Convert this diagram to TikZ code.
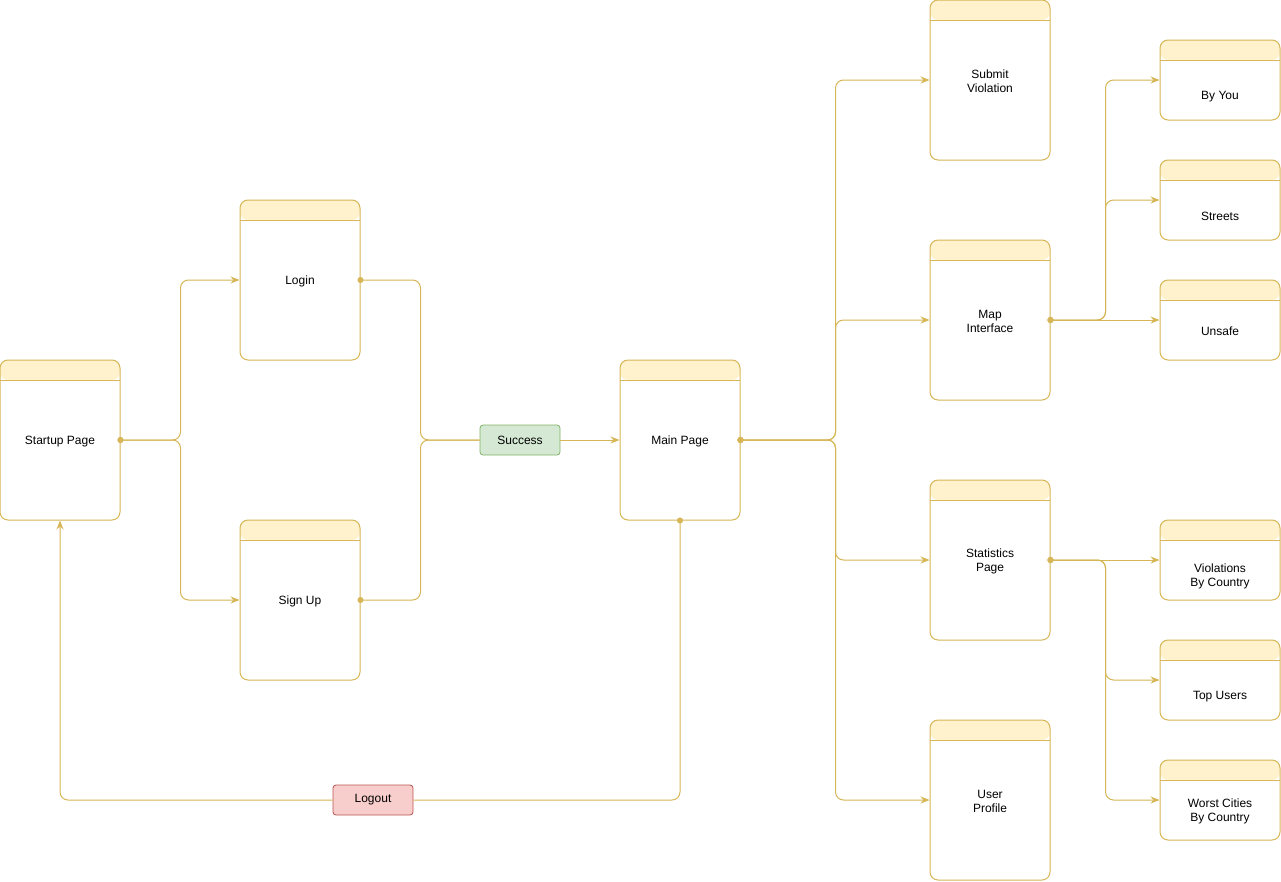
\documentclass[tikz,border=0pt]{standalone}
\usepackage{fontspec}
\setmainfont{Liberation Sans}
\usetikzlibrary{arrows.meta}
\definecolor{boxline}{HTML}{D6B656}
\definecolor{boxhead}{HTML}{FFF2CC}
\definecolor{okfill}{HTML}{D5E8D4}
\definecolor{okline}{HTML}{82B366}
\definecolor{nofill}{HTML}{F8CECC}
\definecolor{noline}{HTML}{B85450}
\tikzset{
  x=1pt,y=-1pt,
  every node/.style={font=\fontsize{12}{14}\selectfont, text=black},
  screen/.style={draw=boxline, line width=1pt, rounded corners=8pt, fill=white,
     minimum width=120pt, minimum height=#1, inner sep=0pt,
     path picture={
       \fill[boxhead] (path picture bounding box.north west) rectangle ([yshift=-20pt]path picture bounding box.north east);
       \draw[boxline, line width=1pt] ([yshift=-20pt]path picture bounding box.north west) -- ([yshift=-20pt]path picture bounding box.north east);
     }},
  screen/.default=160pt,
  txt/.style={align=center, inner sep=0pt, yshift=-1.5pt},
  tag/.style={rounded corners=3pt, line width=0.8pt, minimum width=80pt, minimum height=30pt, inner sep=0pt},
  conn/.style={draw=boxline, line width=1pt, rounded corners=8pt},
  arr/.style={conn, -{Stealth[length=9pt,width=7pt]}},
  darr/.style={conn, shorten <=-3pt, {Circle[length=6pt]}-{Stealth[length=9pt,width=7pt]}},
  dline/.style={conn, shorten <=-3pt, {Circle[length=6pt]}-},
}
\begin{document}
\begin{tikzpicture}
\useasboundingbox (0,0) rectangle (1281,881);
% big screens
\node[screen] (startup) at (60,440) {};
\node[txt] (tstartup) at (60,440) {Startup Page};
\node[screen] (login) at (300,280) {};
\node[txt] (tlogin) at (300,280) {Login};
\node[screen] (signup) at (300,600) {};
\node[txt] (tsignup) at (300,600) {Sign Up};
\node[screen] (main) at (680,440) {};
\node[txt] (tmain) at (680,440) {Main Page};
\node[screen] (submit) at (990,80) {};
\node[txt] (tsubmit) at (990,80) {Submit\\Violation};
\node[screen] (map) at (990,320) {};
\node[txt] (tmap) at (990,320) {Map\\Interface};
\node[screen] (stats) at (990,560) {};
\node[txt] (tstats) at (990,560) {Statistics\\Page};
\node[screen] (profile) at (990,800) {};
\node[txt] (tprofile) at (990,800) {User\\Profile};
% small screens
\node[screen=80pt] (byyou) at (1220,80) {};
\node[txt] (tbyyou) at (1220,95) {By You};
\node[screen=80pt] (streets) at (1220,200) {};
\node[txt] (tstreets) at (1220,215) {Streets};
\node[screen=80pt] (unsafe) at (1220,320) {};
\node[txt] (tunsafe) at (1220,330) {Unsafe};
\node[screen=80pt] (viol) at (1220,560) {};
\node[txt] (tviol) at (1220,575) {Violations\\By Country};
\node[screen=80pt] (top) at (1220,680) {};
\node[txt] (ttop) at (1220,695) {Top Users};
\node[screen=80pt] (worst) at (1220,800) {};
\node[txt] (tworst) at (1220,810) {Worst Cities\\By Country};
% tags
\node[tag, draw=okline, fill=okfill] (success) at (520,440) {Success};
\node[tag, draw=noline, fill=nofill] (logout) at (373,800) {Logout};
% connectors
\draw[darr] (startup.east) -- ++(60,0) |- (login.west);
\draw[darr] (startup.east) -- ++(60,0) |- (signup.west);
\draw[dline] (login.east) -- ++(60,0) |- (success.west);
\draw[dline] (signup.east) -- ++(60,0) |- (success.west);
\draw[arr] (success.east) -- (main.west);
\draw[darr] (main.east) -- ++(95,0) |- (submit.west);
\draw[darr] (main.east) -- ++(95,0) |- (map.west);
\draw[darr] (main.east) -- ++(95,0) |- (stats.west);
\draw[darr] (main.east) -- ++(95,0) |- (profile.west);
\draw[dline] (main.south) |- (logout.east);
\draw[arr] (logout.west) -| (startup.south);
\draw[darr] (map.east) -- ++(55,0) |- (byyou.west);
\draw[darr] (map.east) -- ++(55,0) |- (streets.west);
\draw[darr] (map.east) -- (unsafe.west);
\draw[darr] (stats.east) -- (viol.west);
\draw[darr] (stats.east) -- ++(55,0) |- (top.west);
\draw[darr] (stats.east) -- ++(55,0) |- (worst.west);
\end{tikzpicture}
\end{document}
